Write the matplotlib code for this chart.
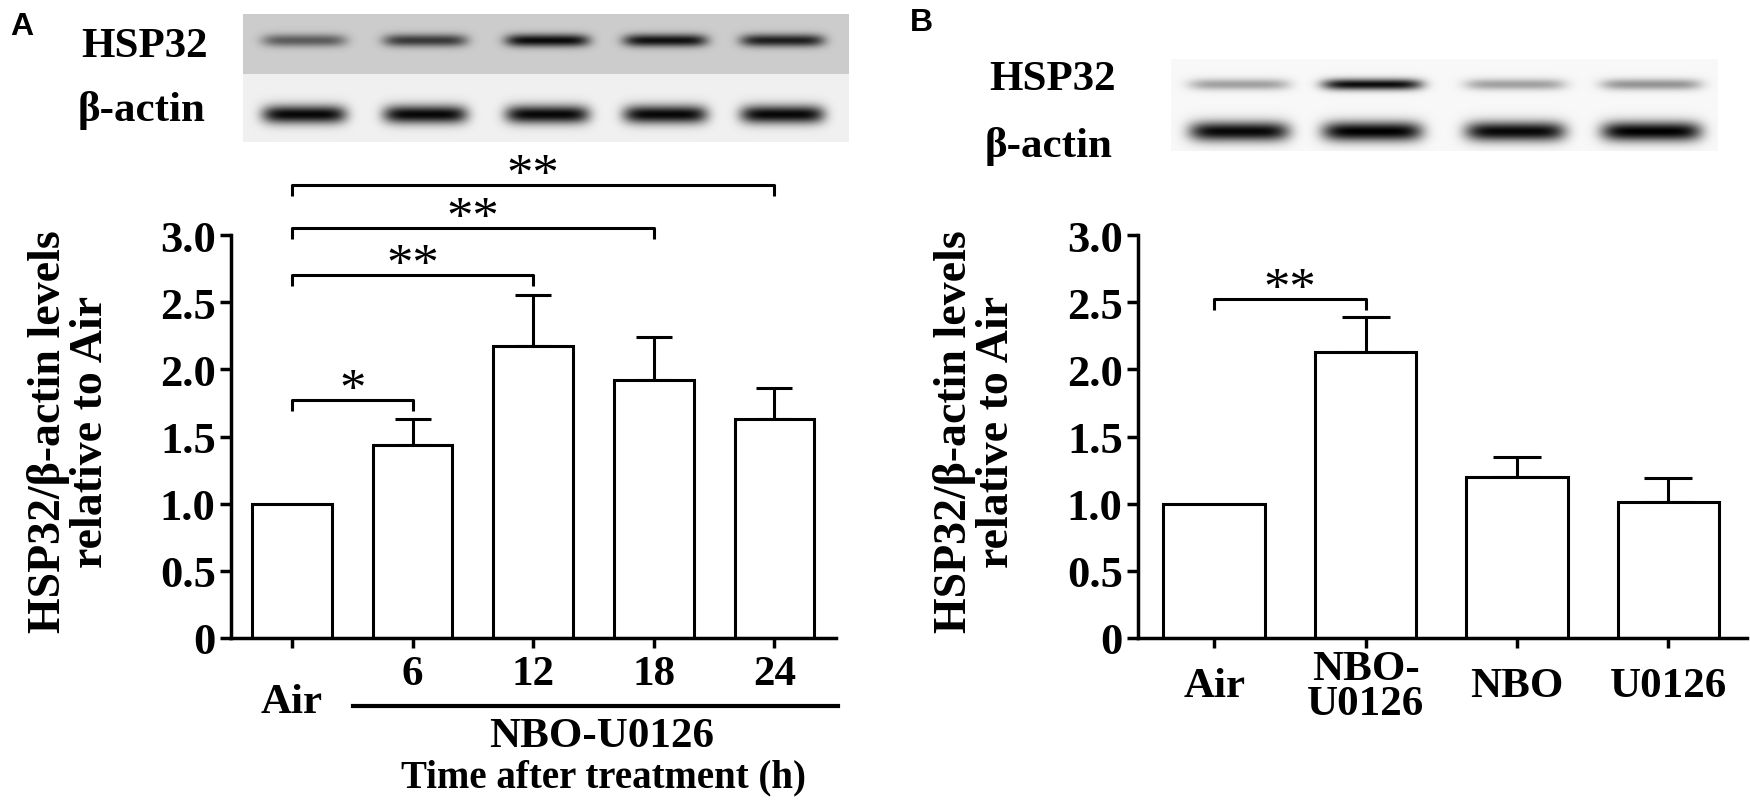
# -*- coding: utf-8 -*-
import matplotlib.pyplot as plt
import numpy as np

plt.rcParams["font.family"] = ["Liberation Serif", "DejaVu Serif"]
plt.rcParams["font.weight"] = "bold"

# Panel A: HSP32/beta-actin after NBO-U0126, by time
time_labels = ["Air", "6", "12", "18", "24"]
time_means = [1.0, 1.44, 2.17, 1.92, 1.63]
time_sem = [0.0, 0.19, 0.38, 0.32, 0.23]
# (group 1, group 2, bracket height, stars)
time_sig = [(0, 1, 1.77, "*"), (0, 2, 2.70, "**"), (0, 3, 3.05, "**"), (0, 4, 3.37, "**")]

# Panel B: treatments
treat_labels = ["Air", "NBO-\nU0126", "NBO", "U0126"]
treat_means = [1.0, 2.13, 1.20, 1.01]
treat_sem = [0.0, 0.26, 0.15, 0.18]
treat_sig = [(0, 1, 2.52, "**")]

# western blot band darkness (0 = none, 1 = black)
blot_a_hsp32 = [0.55, 0.72, 0.95, 0.92, 0.85]
blot_a_actin = [0.97, 0.97, 0.97, 0.97, 0.97]
blot_b_hsp32 = [0.35, 0.95, 0.35, 0.4]
blot_b_actin = [0.97, 1.0, 0.97, 1.0]

W, H = 1750, 804
fig = plt.figure(figsize=(W / 100, H / 100), dpi=100)

# full-figure canvas in pixel coordinates for blots and labels
canvas = fig.add_axes([0, 0, 1, 1], zorder=0)
canvas.set_axis_off()


def blot(x0, x1, y0, y1, rows, lanes, half_width):
    """Draw a synthetic blot. rows: (top, bottom, background, band_y, sigma, darkness list)."""
    xs = np.arange(x0, x1)
    img = np.ones((y1 - y0, x1 - x0))
    for top, bottom, bg, band_y, sigma, dark in rows:
        ys = np.arange(top, bottom)
        block = np.full((len(ys), len(xs)), bg)
        for cx, d in zip(lanes, dark):
            hprof = np.exp(-(((xs - cx) / half_width) ** 6))
            vprof = np.exp(-0.5 * ((ys - band_y) / sigma) ** 2)
            block = block * (1 - d * np.outer(vprof, hprof))
        img[top - y0:bottom - y0, :] = block
    canvas.imshow(img, cmap="gray", vmin=0, vmax=1, aspect="auto",
                  extent=(x0, x1, y1, y0), interpolation="bilinear")


blot(243, 849, 15, 143,
     [(15, 75, 0.80, 41, 4.5, blot_a_hsp32), (75, 143, 0.94, 115, 6.5, blot_a_actin)],
     [304, 425, 547, 665, 782], 42)
blot(1171, 1718, 60, 152,
     [(60, 105, 0.97, 85, 4.0, blot_b_hsp32), (105, 152, 0.97, 132, 7.0, blot_b_actin)],
     [1239, 1372, 1515, 1651], 50)
canvas.set_xlim(0, W)
canvas.set_ylim(H, 0)

canvas.text(22, 27, "A", family="Liberation Sans", fontsize=23, ha="center", va="center")
canvas.text(921, 23, "B", family="Liberation Sans", fontsize=23, ha="center", va="center")
canvas.text(145, 47, "HSP32", fontsize=31, ha="center", va="center")
canvas.text(142, 111, "β-actin", fontsize=31, ha="center", va="center")
canvas.text(1053, 80, "HSP32", fontsize=31, ha="center", va="center")
canvas.text(1049, 146, "β-actin", fontsize=31, ha="center", va="center")

ylabel = "HSP32/β-actin levels\nrelative to Air"
canvas.text(70, 432, ylabel, fontsize=33, rotation=90, ha="center", va="center",
            multialignment="center", linespacing=1.0)
canvas.text(975, 432, ylabel, fontsize=33, rotation=90, ha="center", va="center",
            multialignment="center", linespacing=1.0)


def bar_panel(rect, means, sem, sig, xlim, width):
    ax = fig.add_axes(rect, zorder=2)
    ax.patch.set_alpha(0)
    x = np.arange(len(means))
    ax.bar(x, means, width=width, color="white", edgecolor="black", linewidth=2.2, zorder=2)
    sem = np.asarray(sem)
    m = sem > 0
    ax.errorbar(x[m], np.asarray(means)[m], yerr=[np.zeros(m.sum()), sem[m]], fmt="none",
                ecolor="black", elinewidth=2.2, capsize=13 if len(means) > 4 else 17,
                capthick=2.2, zorder=1)
    for a, b, h, stars in sig:
        ax.plot([a, a, b, b], [h - 0.08, h, h, h - 0.08], color="black", lw=2.2,
                clip_on=False, solid_capstyle="butt")
        ax.text((a + b) / 2, h + 0.07, stars, fontsize=38, fontweight="normal",
                ha="center", va="center", clip_on=False)
    ax.set_xlim(*xlim)
    ax.set_ylim(0, 3.0)
    for side in ["top", "right"]:
        ax.spines[side].set_visible(False)
    for side in ["left", "bottom"]:
        ax.spines[side].set_linewidth(2.5)
    ax.set_yticks([0, 0.5, 1.0, 1.5, 2.0, 2.5, 3.0])
    ax.set_yticklabels(["0", "0.5", "1.0", "1.5", "2.0", "2.5", "3.0"])
    ax.set_xticks(x)
    ax.set_xticklabels([])
    ax.tick_params(axis="y", length=8, width=2.5, pad=3, labelsize=32)
    ax.tick_params(axis="x", length=7, width=2.5)
    return ax


axA = bar_panel([231 / W, 1 - 639 / H, (836 - 231) / W, (639 - 236) / H],
                time_means, time_sem, time_sig, (-0.505, 4.51), 0.66)
axB = bar_panel([1138 / W, 1 - 639 / H, (1747 - 1138) / W, (639 - 236) / H],
                treat_means, treat_sem, treat_sig, (-0.503, 3.52), 0.67)

# panel A category labels
tA = axA.get_xaxis_transform()
for i, lab in enumerate(time_labels):
    y = -0.158 if i == 0 else -0.09
    axA.text(i, y, lab, transform=tA, fontsize=31, ha="center", va="center")
axA.plot([0.51, 4.53], [-0.169, -0.169], transform=tA, color="black", lw=3, clip_on=False)
axA.text(2.57, -0.243, "NBO-U0126", transform=tA, fontsize=31, ha="center", va="center")
axA.text(2.58, -0.345, "Time after treatment (h)", transform=tA, fontsize=28,
         ha="center", va="center")

# panel B category labels
tB = axB.get_xaxis_transform()
for i, lab in enumerate(treat_labels):
    axB.text(i, -0.12, lab, transform=tB, fontsize=31, ha="center", va="center",
             linespacing=0.9)

fig.savefig("out.png", dpi=100)
